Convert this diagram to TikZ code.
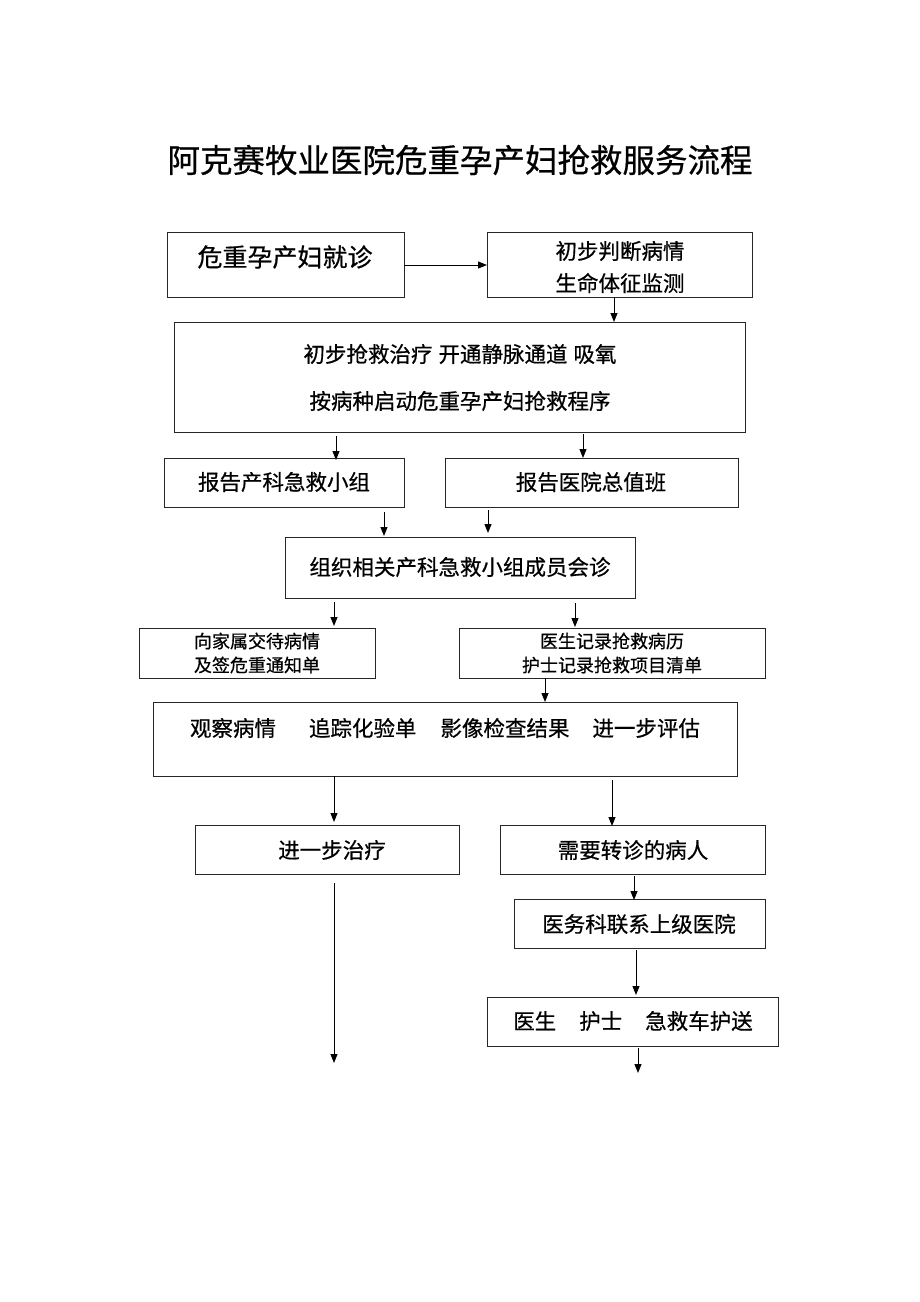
\documentclass[tikz,border=0pt]{standalone}
\usepackage{fontspec}
\newfontfamily\cjk[FakeBold=0.6]{Noto Sans CJK SC}
\usetikzlibrary{arrows.meta}
\tikzset{
  box/.style={draw=black!85, line width=0.9pt, rectangle},
  txt/.style={font=\cjk\fontsize{21.5pt}{26pt}\selectfont, inner sep=0pt, text=black},
  small/.style={font=\cjk\fontsize{18pt}{22pt}\selectfont, inner sep=0pt, text=black},
  arr/.style={line width=1pt, -{Triangle[length=9pt,width=7pt]}}
}
\begin{document}
\begin{tikzpicture}[x=1pt,y=-1pt]
\useasboundingbox (0,0) rectangle (920,1302);
% title
\node[txt, font=\cjk\fontsize{32.5pt}{38pt}\selectfont] (title) at (460,160) {阿克赛牧业医院危重孕产妇抢救服务流程};
% boxes
\node[box, minimum width=237pt, minimum height=65pt, anchor=north west] (b1) at (167,232) {};
\node[txt, font=\cjk\fontsize{25pt}{30pt}\selectfont] (t1) at (285,257) {危重孕产妇就诊};
\node[box, minimum width=265pt, minimum height=65pt, anchor=north west] (b2) at (487,232) {};
\node[txt] (t2a) at (620,251) {初步判断病情};
\node[txt] (t2b) at (620,283) {生命体征监测};
\node[box, minimum width=571pt, minimum height=110pt, anchor=north west] (b3) at (174,322) {};
\node[txt] (t3a) at (460,354) {初步抢救治疗\hspace{6pt}开通静脉通道\hspace{6pt}吸氧};
\node[txt] (t3b) at (460,401) {按病种启动危重孕产妇抢救程序};
\node[box, minimum width=240pt, minimum height=49pt, anchor=north west] (b4a) at (164,458) {};
\node[txt] (t4a) at (284,482) {报告产科急救小组};
\node[box, minimum width=293pt, minimum height=49pt, anchor=north west] (b4b) at (445,458) {};
\node[txt] (t4b) at (591,482) {报告医院总值班};
\node[box, minimum width=350pt, minimum height=61pt, anchor=north west] (b5) at (285,537) {};
\node[txt] (t5) at (460,567) {组织相关产科急救小组成员会诊};
\node[box, minimum width=236pt, minimum height=50pt, anchor=north west] (b6a) at (139,628) {};
\node[small] (t6a) at (257,641) {向家属交待病情};
\node[small] (t6b) at (257,665) {及签危重通知单};
\node[box, minimum width=306pt, minimum height=50pt, anchor=north west] (b6c) at (459,628) {};
\node[small] (t6c) at (612,641) {医生记录抢救病历};
\node[small] (t6d) at (612,665) {护士记录抢救项目清单};
\node[box, minimum width=584pt, minimum height=74pt, anchor=north west] (b7) at (153,702) {};
\node[txt] (t7) at (445,728) {观察病情\hspace{33pt}追踪化验单\hspace{24pt}影像检查结果\hspace{23pt}进一步评估};
\node[box, minimum width=264pt, minimum height=49pt, anchor=north west] (b8a) at (195,825) {};
\node[txt] (t8a) at (332,850) {进一步治疗};
\node[box, minimum width=265pt, minimum height=49pt, anchor=north west] (b8b) at (500,825) {};
\node[txt] (t8b) at (633,850) {需要转诊的病人};
\node[box, minimum width=251pt, minimum height=49pt, anchor=north west] (b9) at (514,899) {};
\node[txt] (t9) at (639,924) {医务科联系上级医院};
\node[box, minimum width=291pt, minimum height=49pt, anchor=north west] (b10) at (487,997) {};
\node[txt] (t10) at (633,1021) {医生\hspace{23pt}护士\hspace{23pt}急救车护送};
% connector coordinates
\coordinate (a1s) at (404,265); \coordinate (a1e) at (487,265);
\coordinate (a2s) at (614,297); \coordinate (a2e) at (614,322);
\coordinate (a3s) at (336,436); \coordinate (a3e) at (336,460);
\coordinate (a4s) at (583,434); \coordinate (a4e) at (583,458);
\coordinate (a5s) at (384,512); \coordinate (a5e) at (384,536);
\coordinate (a6s) at (488,510); \coordinate (a6e) at (488,533);
\coordinate (a7s) at (334,602); \coordinate (a7e) at (334,626);
\coordinate (a8s) at (575,603); \coordinate (a8e) at (575,627);
\coordinate (a9s) at (545,678); \coordinate (a9e) at (545,702);
\coordinate (a10s) at (334,776); \coordinate (a10e) at (334,822);
\coordinate (a11s) at (612,780); \coordinate (a11e) at (612,826);
\coordinate (a12s) at (334,883); \coordinate (a12e) at (334,1063);
\coordinate (a13s) at (634,876); \coordinate (a13e) at (634,900);
\coordinate (a14s) at (636,950); \coordinate (a14e) at (636,995);
\coordinate (a15s) at (638,1048); \coordinate (a15e) at (638,1073);
\foreach \i in {1,...,15} \draw[arr] (a\i s) -- (a\i e);
\end{tikzpicture}
\end{document}
